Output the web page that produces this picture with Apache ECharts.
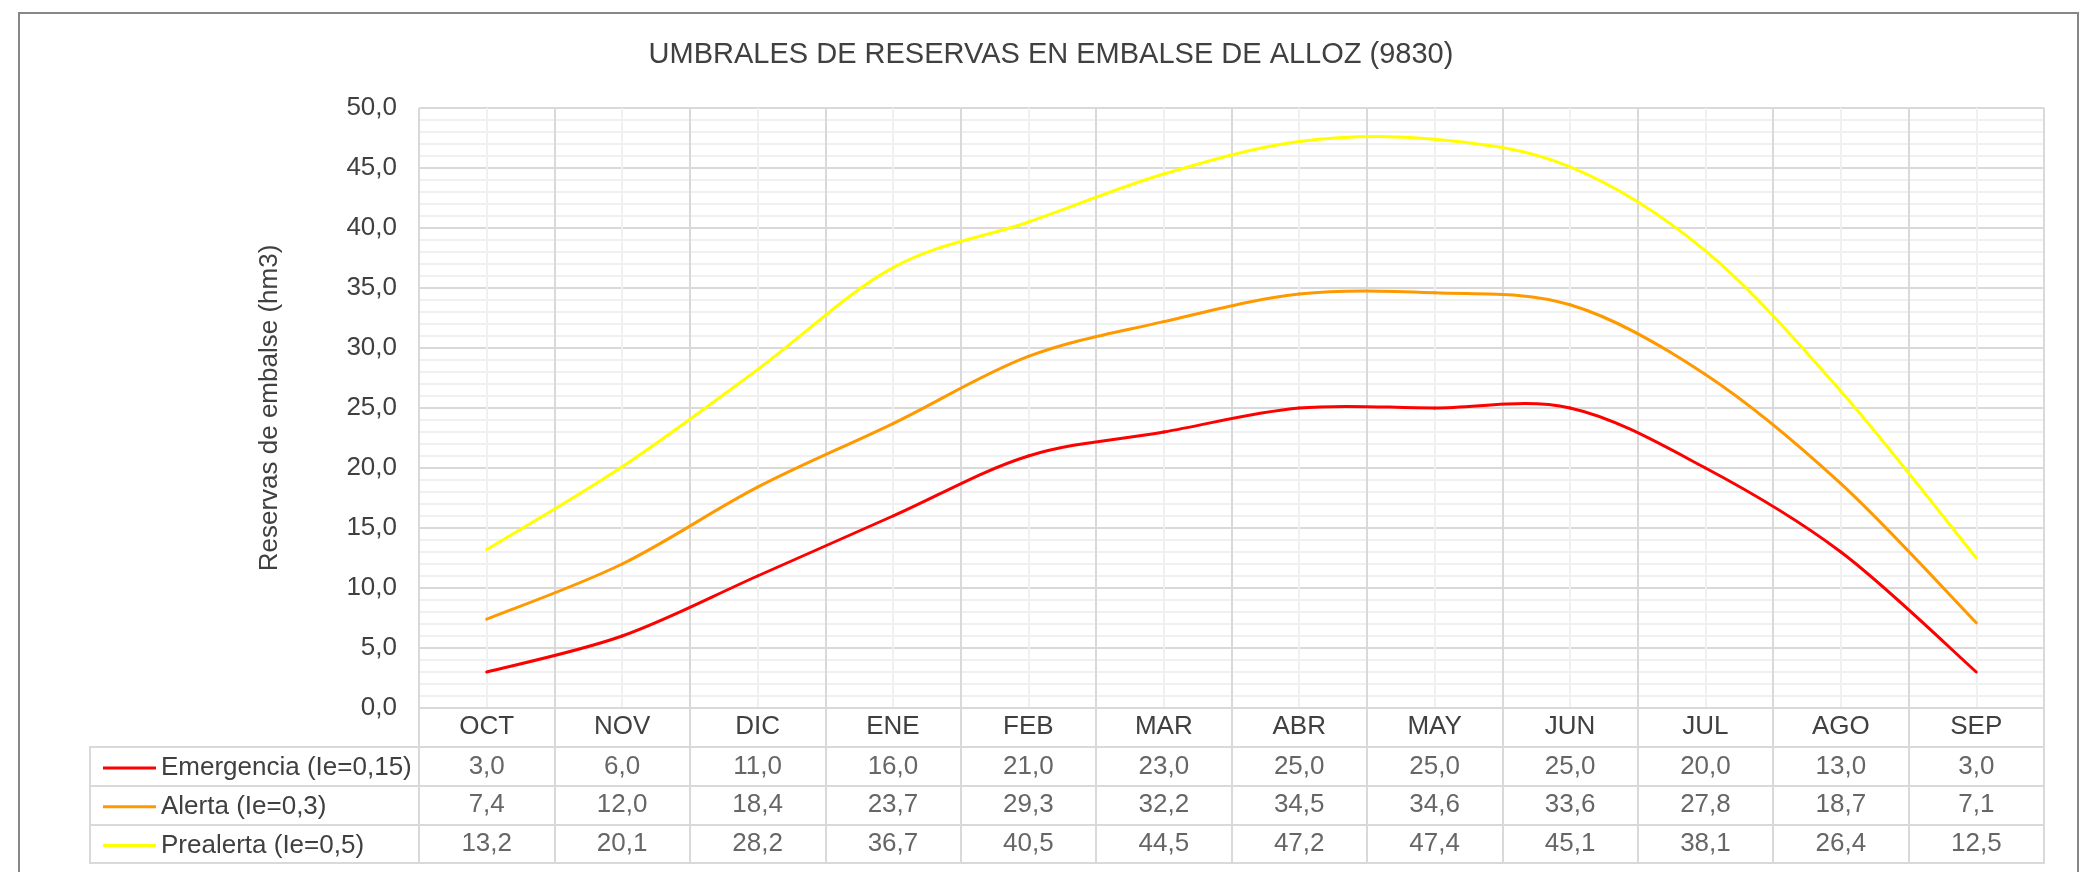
<!DOCTYPE html>
<html>
<head>
<meta charset="utf-8">
<script src="https://cdn.jsdelivr.net/npm/echarts@6/dist/echarts.min.js"></script>
<style>
html,body{margin:0;padding:0;background:#fff;}
#c{width:2098px;height:872px;}
</style>
</head>
<body>
<div id="c"></div>
<script>
const months = ['OCT','NOV','DIC','ENE','FEB','MAR','ABR','MAY','JUN','JUL','AGO','SEP'];
const seriesNames = ['Emergencia (Ie=0,15)','Alerta (Ie=0,3)','Prealerta (Ie=0,5)'];
const emergencia = [3.0,6.0,11.0,16.0,21.0,23.0,25.0,25.0,25.0,20.0,13.0,3.0];
const alerta = [7.4,12.0,18.4,23.7,29.3,32.2,34.5,34.6,33.6,27.8,18.7,7.1];
const prealerta = [13.2,20.1,28.2,36.7,40.5,44.5,47.2,47.4,45.1,38.1,26.4,12.5];
const colors = ['#FF0000','#FF9900','#FFFF00'];
const yMin = 0, yMax = 50, yStep = 5;
const title = 'UMBRALES DE RESERVAS EN EMBALSE DE ALLOZ (9830)';
const yName = 'Reservas de embalse (hm3)';

const FONT = "'Liberation Sans', Arial, sans-serif";
const TXT = '#404040';
const MAJ = '#D9D9D9';
const MIN = '#F0F0F0';
const fmt = v => v.toFixed(1).replace('.', ',');

const allSeries = [emergencia, alerta, prealerta];
const tableData = [];
allSeries.forEach((arr, r) => arr.forEach((v, i) => tableData.push([i, r, v])));

// Excel-like smoothed line (Catmull-Rom through the points, via the axis scales)
function smoothRenderer(arr, color) {
  return function (params, api) {
    const i = params.dataIndex;
    const n = arr.length;
    if (i >= n - 1) return null;
    const P = j => { j = Math.max(0, Math.min(n - 1, j)); return api.coord([j, arr[j]]); };
    const p0 = P(i - 1), p1 = P(i), p2 = P(i + 1), p3 = P(i + 2);
    return {
      type: 'bezierCurve',
      shape: {
        x1: p1[0], y1: p1[1], x2: p2[0], y2: p2[1],
        cpx1: p1[0] + (p2[0] - p0[0]) / 6, cpy1: p1[1] + (p2[1] - p0[1]) / 6,
        cpx2: p2[0] - (p3[0] - p1[0]) / 6, cpy2: p2[1] - (p3[1] - p1[1]) / 6
      },
      style: {stroke: color, lineWidth: 3, fill: null, lineCap: 'round'},
      silent: true
    };
  };
}

const chart = echarts.init(document.getElementById('c'), null, {renderer: 'canvas'});
const option = {
  backgroundColor: '#fff',
  animation: false,
  textStyle: {fontFamily: FONT},
  title: {
    text: title, left: 1046, top: 35, textAlign: 'center',
    textStyle: {fontFamily: FONT, fontSize: 29, fontWeight: 'normal', color: TXT}
  },
  legend: {
    data: seriesNames, orient: 'vertical', left: 98, top: 750,
    icon: 'rect', itemWidth: 53, itemHeight: 3, itemGap: 12.7,
    textStyle: {fontFamily: FONT, fontSize: 26, color: TXT, lineHeight: 26},
    selectedMode: false
  },
  grid: [
    {left: 419, right: 54, top: 108, height: 600},
    {left: 419, right: 54, top: 747, height: 116},
    {left: 90, right: 54, top: 747, height: 116, show: true, borderColor: MAJ, borderWidth: 2}
  ],
  xAxis: [
    {type: 'category', data: months, gridIndex: 0, boundaryGap: true,
     axisLine: {show: true, lineStyle: {color: MAJ, width: 2}},
     axisTick: {show: true, length: 39, lineStyle: {color: MAJ, width: 2}},
     axisLabel: {fontFamily: FONT, fontSize: 26, color: TXT, margin: 19, verticalAlign: 'middle'},
     splitLine: {show: false}},
    {type: 'value', gridIndex: 0, min: 0, max: 12, interval: 1, show: true,
     axisLine: {show: false}, axisTick: {show: false}, axisLabel: {show: false},
     splitLine: {show: true, lineStyle: {color: MAJ, width: 2}},
     minorTick: {show: false, splitNumber: 2},
     minorSplitLine: {show: true, lineStyle: {color: MIN, width: 2}}},
    {type: 'category', data: months, gridIndex: 1, boundaryGap: true,
     axisLine: {show: false}, axisTick: {show: false}, axisLabel: {show: false},
     splitLine: {show: true, interval: 0, lineStyle: {color: MAJ, width: 2}}},
    {type: 'value', gridIndex: 2, show: false}
  ],
  yAxis: [
    {type: 'value', gridIndex: 0, min: yMin, max: yMax, interval: yStep,
     name: yName, nameLocation: 'middle', nameGap: 136,
     nameTextStyle: {fontFamily: FONT, fontSize: 26, color: TXT},
     axisLine: {show: false}, axisTick: {show: false},
     axisLabel: {fontFamily: FONT, fontSize: 26, color: TXT, margin: 22, formatter: v => fmt(v)},
     splitLine: {show: true, lineStyle: {color: MAJ, width: 2}},
     minorTick: {show: false, splitNumber: 5},
     minorSplitLine: {show: true, lineStyle: {color: MIN, width: 2}}},
    {type: 'category', data: seriesNames, gridIndex: 1, inverse: true, show: false},
    {type: 'category', data: seriesNames, gridIndex: 2, inverse: true,
     axisLine: {show: false}, axisTick: {show: false}, axisLabel: {show: false},
     splitLine: {show: true, interval: 0, lineStyle: {color: MAJ, width: 2}}}
  ],
  series: [
    ...seriesNames.map((n, k) => ({
      name: n, type: 'custom', xAxisIndex: 0, yAxisIndex: 0,
      data: allSeries[k].map((v, i) => [i, v]),
      encode: {x: 0, y: 1},
      renderItem: smoothRenderer(allSeries[k], colors[k]),
      itemStyle: {color: colors[k]},
      z: 5, silent: true
    })),
    {type: 'scatter', name: 'tabla', xAxisIndex: 2, yAxisIndex: 1, data: tableData,
     symbolSize: 0, silent: true,
     encode: {x: 0, y: 1},
     label: {show: true, position: 'inside', fontFamily: FONT, fontSize: 26, color: TXT,
             formatter: p => fmt(p.value[2])}}
  ],
  graphic: [
    {type: 'rect', shape: {x: 19, y: 13, width: 2059, height: 900},
     style: {fill: 'none', stroke: '#878787', lineWidth: 2}, silent: true, z: 100}
  ]
};
chart.setOption(option);
</script>
</body>
</html>
